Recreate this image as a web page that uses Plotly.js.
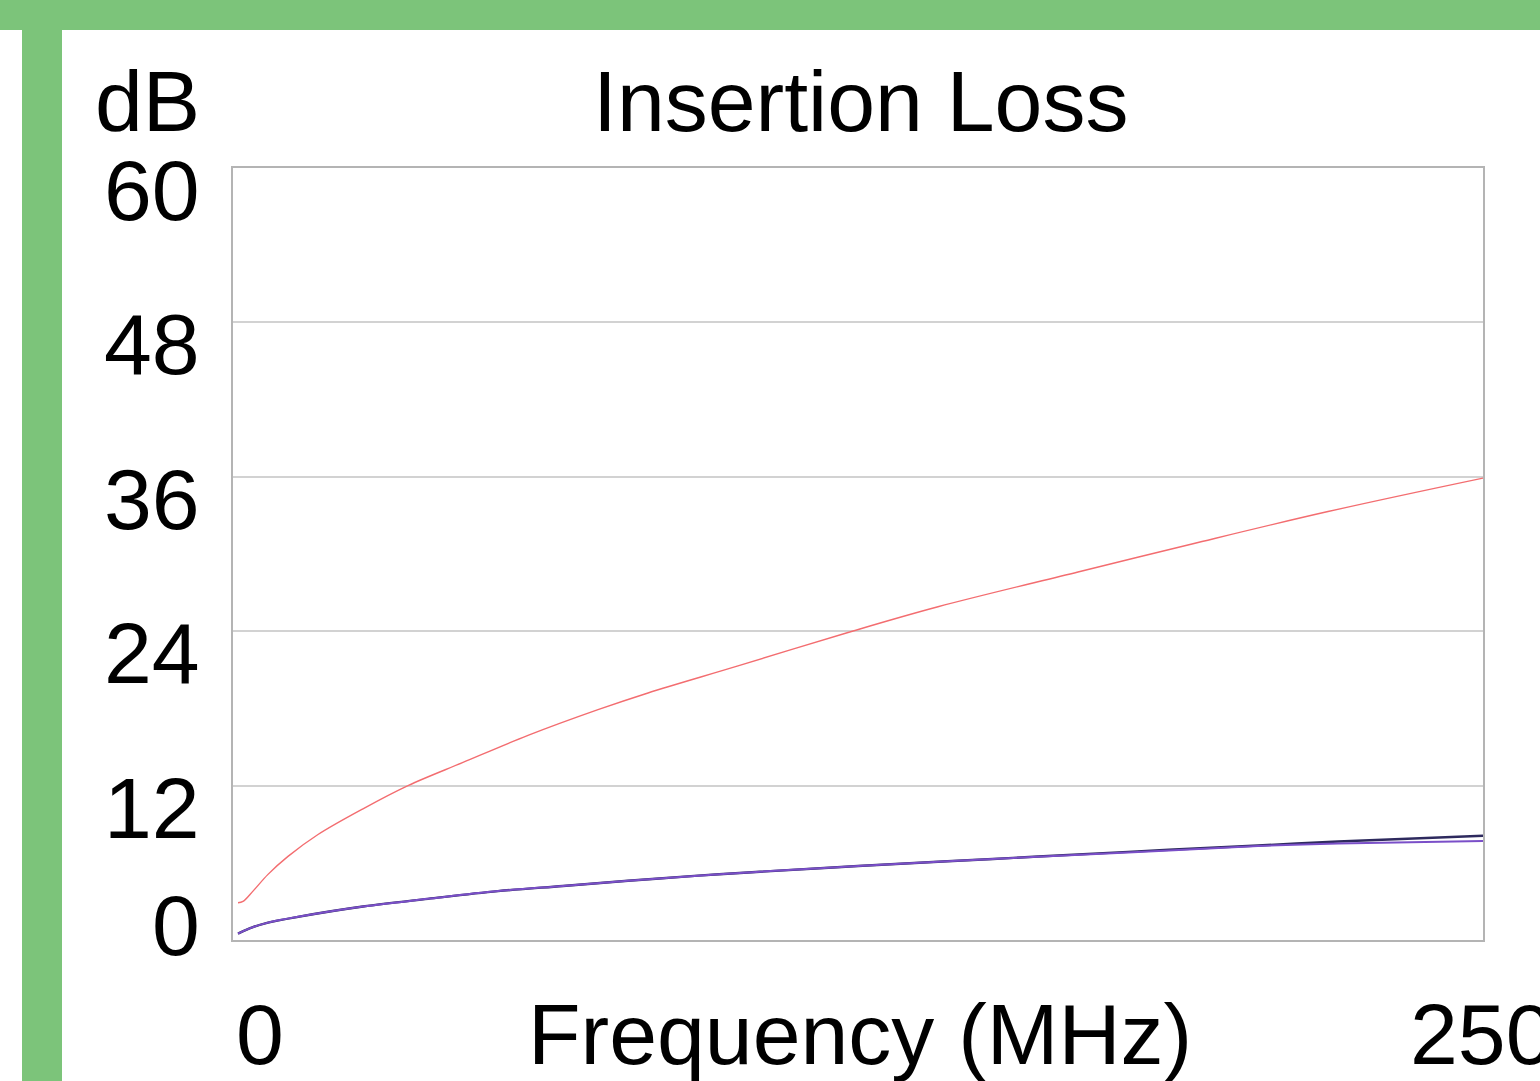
<!DOCTYPE html>
<html>
<head>
<meta charset="utf-8">
<script src="https://cdn.plot.ly/plotly-3.0.1.min.js"></script>
<style>
html,body{margin:0;padding:0;background:#fff;}
#chart{width:1540px;height:1081px;}
</style>
</head>
<body>
<div id="chart"></div>
<script>
// ---- data ----
const titleText = "Insertion Loss";
const yUnit = "dB";
const xAxisLabel = "Frequency (MHz)";
const yTicks = [0, 12, 24, 36, 48, 60];
const xTickLabels = ["0", "250"];
const xTickValues = [0, 250];

const freqRed = [1, 2, 4, 7, 11, 17, 26, 35, 46, 59, 73, 83, 101, 123, 141, 169, 192, 219, 250];
const lossRed = [2.9, 3.0, 3.8, 5.1, 6.5, 8.2, 10.2, 12.0, 13.8, 15.9, 17.9, 19.2, 21.3, 23.9, 25.9, 28.6, 30.8, 33.3, 35.9];

const freqPair = [1, 4, 7, 13, 26, 39, 53, 66, 79, 93, 103, 125, 152, 179, 205, 221, 250];
const lossNavy = [0.5, 1.0, 1.35, 1.8, 2.6, 3.2, 3.8, 4.2, 4.6, 5.0, 5.25, 5.75, 6.3, 6.85, 7.35, 7.65, 8.1];
const lossPurple = [0.5, 1.0, 1.35, 1.8, 2.6, 3.2, 3.8, 4.2, 4.6, 5.0, 5.25, 5.75, 6.3, 6.8, 7.3, 7.5, 7.7];

// ---- geometry helpers (pixel -> paper) ----
const W = 1540, H = 1081;
const M = {l: 233, r: 57, t: 168, b: 141};
const pw = W - M.l - M.r, ph = H - M.t - M.b;
const px = x => (x - M.l) / pw;
const py = y => (H - M.b - y) / ph;

const FONT = "Liberation Sans, Arial, sans-serif";
const FS = 86;
const green = "#7cc47a";

const traces = [
  {x: freqRed, y: lossRed, type: "scatter", mode: "lines",
   line: {color: "#f36d70", width: 1.4, shape: "spline"}, hoverinfo: "skip"},
  {x: freqPair, y: lossNavy, type: "scatter", mode: "lines",
   line: {color: "#2e2a5e", width: 2.4, shape: "spline"}, hoverinfo: "skip"},
  {x: freqPair, y: lossPurple, type: "scatter", mode: "lines",
   line: {color: "#7a4fc8", width: 2.0, shape: "spline"}, hoverinfo: "skip"}
];

const annotations = [];
// title
annotations.push({text: titleText, xref: "paper", yref: "paper", x: px(860), y: py(101),
  xanchor: "center", yanchor: "middle", showarrow: false, font: {family: FONT, size: FS, color: "#000"}});
annotations.push({text: yUnit, xref: "paper", yref: "paper", x: px(202), y: py(101),
  xanchor: "right", yanchor: "middle", showarrow: false, font: {family: FONT, size: FS, color: "#000"}});
// y tick labels
yTicks.forEach(v => {
  annotations.push({text: String(v), xref: "paper", yref: "y", x: px(202), y: v,
    yshift: v === 0 ? 15 : -22, xanchor: "right", yanchor: "middle", showarrow: false,
    font: {family: FONT, size: FS, color: "#000"}});
});
// x tick labels
xTickLabels.forEach((t, i) => {
  annotations.push({text: t, xref: "x", yref: "paper", x: xTickValues[i], y: py(1034),
    xshift: i === 0 ? 1 : -75, xanchor: "left", yanchor: "middle", showarrow: false,
    font: {family: FONT, size: FS, color: "#000"}});
});
annotations.push({text: xAxisLabel, xref: "paper", yref: "paper", x: px(860), y: py(1034),
  xanchor: "center", yanchor: "middle", showarrow: false, font: {family: FONT, size: FS, color: "#000"}});

const shapes = [
  {type: "rect", xref: "paper", yref: "paper", x0: px(-5), x1: px(W + 5), y0: py(30), y1: py(-5),
   fillcolor: green, line: {width: 0}, layer: "below"},
  {type: "rect", xref: "paper", yref: "paper", x0: px(22), x1: px(62), y0: py(H + 5), y1: py(30),
   fillcolor: green, line: {width: 0}, layer: "below"}
];

const layout = {
  width: W, height: H,
  margin: M,
  paper_bgcolor: "#ffffff",
  plot_bgcolor: "#ffffff",
  showlegend: false,
  xaxis: {range: [0, 250], showgrid: false, zeroline: false, showticklabels: false, ticks: "",
          showline: true, mirror: true, linecolor: "#b4b4b4", linewidth: 2, fixedrange: true},
  yaxis: {range: [0, 60], tickvals: yTicks, showgrid: true, gridcolor: "#d2d2d2", gridwidth: 2,
          zeroline: false, showticklabels: false, ticks: "",
          showline: true, mirror: true, linecolor: "#b4b4b4", linewidth: 2, fixedrange: true},
  annotations: annotations,
  shapes: shapes
};

Plotly.newPlot("chart", traces, layout, {displayModeBar: false, staticPlot: true});
</script>
</body>
</html>
